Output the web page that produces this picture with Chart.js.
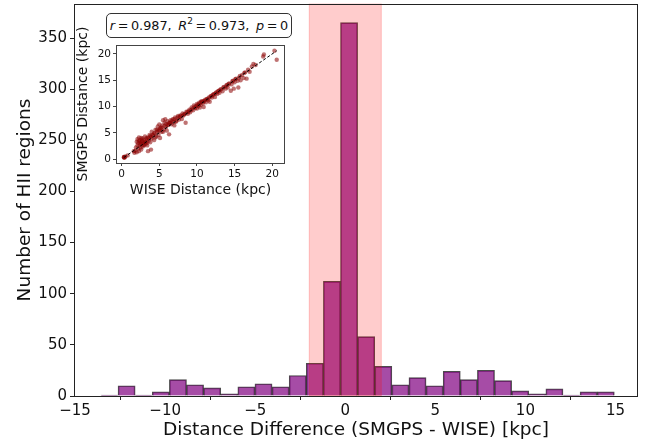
<!DOCTYPE html>
<html>
<head>
<meta charset="utf-8">
<script src="https://cdn.jsdelivr.net/npm/chart.js@4.4.0/dist/chart.umd.min.js"></script>
<style>
html,body{margin:0;padding:0;background:#fff}
#wrap{position:relative;width:648px;height:443px;overflow:hidden}
#main{position:absolute;left:0;top:0}
#inset{position:absolute;left:75px;top:25px}
#stats{position:absolute;left:106px;top:13px;width:184px;height:23px;border:1px solid #333;border-radius:5px;background:#fff;
  font-family:'DejaVu Sans',sans-serif;font-size:12.8px;color:#111;display:flex;align-items:center;justify-content:center;white-space:pre}
#stats sup{font-size:0.7em;position:relative;top:-0.45em;vertical-align:baseline}
</style>
</head>
<body>
<div id="wrap">
  <canvas id="main" width="648" height="443"></canvas>
  <canvas id="inset" width="214" height="177"></canvas>
  <div id="stats"><i>r</i>&thinsp;=&thinsp;0.987,&nbsp;&thinsp;<i>R</i><sup>2</sup>&thinsp;=&thinsp;0.973,&nbsp;&thinsp;<i>p</i>&thinsp;=&thinsp;0</div>
</div>
<script>
// histogram of distance differences (bin centres, kpc) and counts
const binCenters = [-13.09,-12.14,-11.19,-10.24,-9.29,-8.34,-7.39,-6.44,-5.49,-4.54,
  -3.59,-2.64,-1.69,-0.74,0.21,1.16,2.11,3.06,4.01,4.96,
  5.91,6.86,7.81,8.76,9.71,10.66,11.61,12.56,13.51,14.46]
const hiiCounts = [1,10,1,4,16,11,8,2,9,12,
  9,20,32,112,365,58,29,11,18,10,
  24,16,25,15,5,2,7,1,4,4]
const xTicks = [-15,-10,-5,0,5,10,15]
const yTicks = [0,50,100,150,200,250,300,350]
const bandRange = [-2,2]

// inset: WISE vs SMGPS distance (kpc)
const wiseDist = [0.3,0.35,0.4,0.3,0.5,0.8,
  1.6,1.7,1.8,1.9,2.0,2.0,2.1,2.2,2.2,2.3,2.3,2.4,2.4,2.5,2.5,2.6,2.6,2.7,2.7,2.8,2.8,2.9,
  3.0,3.0,3.1,3.2,3.2,3.3,3.4,3.5,3.5,3.6,3.7,3.8,3.9,3.9,4.0,4.0,4.2,4.3,4.4,4.5,4.6,4.7,4.8,4.9,
  5.0,5.0,5.1,5.2,5.3,5.4,5.5,5.6,5.7,5.8,5.9,6.0,6.1,6.2,6.3,6.4,6.5,6.6,6.8,6.9,
  7.0,7.1,7.3,7.5,7.6,7.8,8.0,8.1,8.3,8.5,8.6,8.8,9.0,9.1,9.3,9.5,9.6,9.8,
  10.0,10.0,10.2,10.3,10.4,10.5,10.6,10.8,10.9,11.0,11.2,11.3,11.5,11.7,11.8,
  12.0,12.2,12.4,12.5,12.7,12.9,13.0,13.2,13.4,13.6,13.8,14.0,14.1,14.3,14.5,14.6,14.8,14.9,
  15.0,15.2,15.4,15.5,15.6,15.8,16.0,16.2,16.4,16.6,16.8,17.0,17.3,17.5,17.8,18.8,18.9,20.3,20.6,
  2.1,2.3,2.5,2.7,2.9,3.1,3.3,3.4,3.6,3.8,4.1,4.3,4.5,4.7,4.9,5.1,5.3,5.5,5.7,5.9,
  6.1,6.3,6.5,6.7,7.0,7.2,7.4,7.7,7.9,8.2,8.4,8.7,8.9,9.2,9.4,9.7,9.9,10.1,10.3,10.5,
  10.7,10.9,11.1,11.4,11.6,11.9,12.1,12.3,12.6,12.8,13.1,13.5,13.9,14.2,14.7,15.1,15.7,16.3]
const smgpsDist = [0.3,0.35,0.3,0.4,0.5,0.7,
  1.5,1.2,1.6,2.2,3.3,1.3,3.8,2.0,3.0,4.1,1.5,2.6,3.6,2.2,3.2,1.8,4.0,2.9,3.4,2.4,3.9,3.1,
  2.6,3.6,4.3,2.9,3.3,3.8,2.6,1.5,4.1,3.5,4.6,3.2,4.2,1.8,3.9,5.2,4.5,3.6,4.9,5.6,4.3,5.2,6.2,4.6,
  5.5,6.6,4.0,5.9,5.2,6.4,7.4,5.6,6.9,7.6,6.1,5.4,7.2,6.5,4.7,6.9,7.4,6.6,7.6,7.0,
  6.4,7.9,7.3,8.2,7.5,8.3,7.6,8.7,8.5,6.9,9.0,8.6,9.4,8.9,9.8,9.3,10.2,9.7,
  10.5,9.6,10.1,10.7,9.8,10.3,11.0,10.6,9.9,11.1,10.8,11.4,11.2,10.9,11.9,
  11.7,12.3,11.8,12.6,12.4,13.0,12.6,13.3,12.9,13.7,13.4,14.1,13.6,14.4,13.0,14.2,14.9,13.4,
  14.6,15.3,14.9,13.6,15.5,15.0,16.0,15.4,16.5,15.3,17.0,16.6,17.6,18.1,17.9,19.5,19.9,20.6,18.9,
  2.6,3.4,2.9,3.7,2.7,3.2,4.0,3.1,3.9,4.4,4.6,4.9,4.1,5.6,5.3,5.8,6.0,5.2,6.3,6.7,
  6.5,6.8,6.9,7.3,7.6,7.1,7.9,8.0,8.2,8.3,8.6,8.9,9.1,9.3,9.6,9.9,10.1,10.3,10.4,10.8,
  10.9,11.0,11.3,11.5,11.7,12.0,12.2,12.4,12.7,12.9,13.2,13.6,14.0,14.3,14.8,15.2,15.8,16.4]
const fitLine = [0.3,20.6]
const insetTicks = [0,5,10,15,20]

const FONT = "'DejaVu Sans', sans-serif"
const minus = v => String(v).replace('-', '\u2212')

const bandPlugin = {
  id:'band',
  afterDatasetsDraw(chart){
    const {ctx, chartArea:a, scales:{x}} = chart
    const x0 = x.getPixelForValue(bandRange[0])
    const x1 = x.getPixelForValue(bandRange[1])
    ctx.save()
    ctx.fillStyle = 'rgba(255,0,0,0.2)'
    ctx.fillRect(x0, a.top, x1-x0, a.bottom-a.top)
    ctx.strokeStyle = 'rgba(255,0,0,0.2)'
    ctx.lineWidth = 1
    ctx.strokeRect(x0, a.top, x1-x0, a.bottom-a.top)
    ctx.restore()
  }
}

const framePlugin = {
  id:'frame',
  afterDraw(chart, args, opts){
    const {ctx, chartArea:a} = chart
    ctx.save()
    ctx.strokeStyle = opts.color || '#222'
    ctx.lineWidth = 1
    ctx.strokeRect(Math.round(a.left)+0.5, Math.round(a.top)+0.5, Math.round(a.right-a.left)-1, Math.round(a.bottom-a.top))
    ctx.restore()
  }
}

// keep the plot area where the reference has it
const fixX = h => s => { s.height = h; s.paddingLeft = 0; s.paddingRight = 0 }
const fixY = w => s => { s.width = w; s.paddingTop = 0; s.paddingBottom = 0 }

new Chart(document.getElementById('main'), {
  type:'bar',
  data:{datasets:[{
    data: binCenters.map((c,i)=>({x:c, y:hiiCounts[i]})),
    backgroundColor:'rgba(128,0,128,0.7)',
    borderColor:'rgba(0,0,0,0.7)',
    borderWidth:1,
    barPercentage:1,
    categoryPercentage:1
  }]},
  options:{
    responsive:false,
    animation:false,
    layout:{padding:{top:4,right:10,left:0,bottom:0}},
    plugins:{legend:{display:false}, tooltip:{enabled:false}, frame:{color:'#222'}},
    scales:{
      x:{
        type:'linear', offset:false, min:-15.06, max:16.25,
        afterBuildTicks: s => { s.ticks = xTicks.map(v=>({value:v})) },
        afterFit: fixX(47),
        grid:{drawOnChartArea:false, drawTicks:true, tickLength:4, color:'#222'},
        border:{display:false},
        ticks:{color:'#111', font:{family:FONT, size:15}, padding:2, maxRotation:0, callback: v => minus(v)},
        title:{display:true, text:'Distance Difference (SMGPS - WISE) [kpc]', color:'#111',
          font:{family:FONT, size:18.5}, padding:{top:0,bottom:2}}
      },
      y:{
        min:0, max:383.25,
        afterBuildTicks: s => { s.ticks = yTicks.map(v=>({value:v})) },
        afterFit: fixY(74),
        grid:{drawOnChartArea:false, drawTicks:true, tickLength:4, color:'#222'},
        border:{display:false},
        ticks:{color:'#111', font:{family:FONT, size:15}, padding:3},
        title:{display:true, text:'Number of HII regions', color:'#111',
          font:{family:FONT, size:18.5}, padding:{top:14,bottom:0}}
      }
    }
  },
  plugins:[bandPlugin, framePlugin]
})

new Chart(document.getElementById('inset'), {
  type:'scatter',
  data:{datasets:[
    {
      type:'line',
      data: fitLine.map(v=>({x:v, y:v})),
      borderColor:'#000', borderWidth:1, borderDash:[3,2], pointRadius:0, fill:false, order:0
    },
    {
      data: wiseDist.map((w,i)=>({x:w, y:smgpsDist[i]})),
      backgroundColor:'rgba(139,0,0,0.55)', borderWidth:0, pointRadius:2.2, order:1
    }
  ]},
  options:{
    responsive:false,
    animation:false,
    layout:{padding:{top:20,right:3,left:0,bottom:0}},
    plugins:{legend:{display:false}, tooltip:{enabled:false}, frame:{color:'#444'}},
    scales:{
      x:{
        type:'linear', min:-0.75, max:21.7,
        afterBuildTicks: s => { s.ticks = insetTicks.map(v=>({value:v})) },
        afterFit: fixX(39),
        grid:{drawOnChartArea:false, drawTicks:true, tickLength:3, color:'#444'},
        border:{display:false},
        ticks:{color:'#111', font:{family:FONT, size:10.5}, padding:2, maxRotation:0},
        title:{display:true, text:'WISE Distance (kpc)', color:'#111',
          font:{family:FONT, size:14}, padding:{top:0,bottom:3.6}}
      },
      y:{
        type:'linear', min:-0.75, max:21.7,
        afterBuildTicks: s => { s.ticks = insetTicks.map(v=>({value:v})) },
        afterFit: fixY(41),
        grid:{drawOnChartArea:false, drawTicks:true, tickLength:3, color:'#444'},
        border:{display:false},
        ticks:{color:'#111', font:{family:FONT, size:10.5}, padding:2},
        title:{display:true, text:'SMGPS Distance (kpc)', color:'#111',
          font:{family:FONT, size:14}, padding:{top:0,bottom:0}}
      }
    }
  },
  plugins:[framePlugin]
})
</script>
</body>
</html>
